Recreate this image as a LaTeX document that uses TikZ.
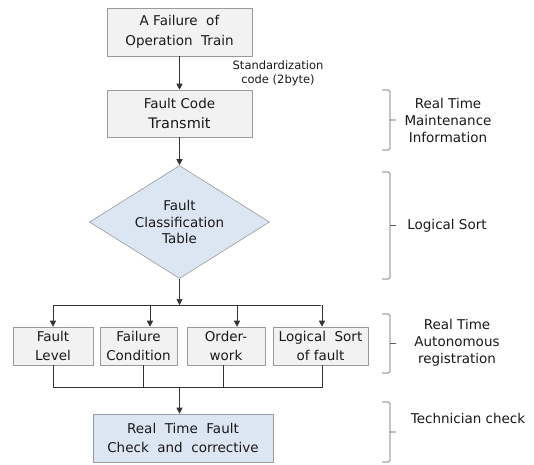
\documentclass[tikz,border=0pt]{standalone}
\usepackage{fontspec}
\setmainfont{DejaVu Sans}
\usetikzlibrary{positioning,arrows.meta,shapes.geometric}
\definecolor{boxgray}{HTML}{F2F2F2}
\definecolor{boxblue}{HTML}{DCE6F2}
\definecolor{edgegray}{HTML}{9A9A9A}
\definecolor{linegray}{HTML}{333333}
\tikzset{
  flowarrow/.style={-{Triangle[length=6pt,width=6pt]}, semithick, linegray},
  busline/.style={semithick, linegray},
  braceline/.style={semithick, black!65, rounded corners=1.5pt},
  stepbox/.style={draw=edgegray, semithick, fill=boxgray, align=center, inner sep=1pt, font=\fontsize{13.5}{19.5}\selectfont},
  checkbox/.style={stepbox, fill=boxblue},
  tablenode/.style={diamond, aspect=1.6, draw=edgegray, semithick, fill=boxblue, align=center, inner sep=0pt, minimum width=180pt, minimum height=113pt, font=\fontsize{13.5}{16.5}\selectfont},
  sidelabel/.style={align=center, font=\fontsize{13.5}{17}\selectfont},
  smalllabel/.style={align=center, font=\fontsize{11.5}{14}\selectfont}
}

\begin{document}
\begin{tikzpicture}[x=1pt, y=-1pt, every node/.style={text=black!90}]
      \useasboundingbox (0,0) rectangle (534,464);
      % main flow
      \node[stepbox, minimum width=145pt, minimum height=48pt] (fail) at (179.5,32) {A Failure\ \ of\\Operation\ \ Train};
      \node[stepbox, minimum width=145pt, minimum height=47pt] (code) at (179.5,113.5) {Fault Code\\{\fontsize{14.5}{19.5}\selectfont Transmit}};
      \node[smalllabel] (std) at (278,73) {Standardization\\code (2byte)};
      \node[tablenode] (table) at (179.5,222) {Fault\\Classification\\Table};
      \draw[flowarrow] (fail) -- (code);
      \draw[flowarrow] (code) -- (table);
      % four sort boxes
      \node[stepbox, minimum width=80pt, minimum height=38pt] (lvl) at (53,346) {Fault\\Level};
      \node[stepbox, minimum width=77pt, minimum height=38pt] (cond) at (138.5,346) {Failure\\Condition};
      \node[stepbox, minimum width=78pt, minimum height=38pt] (order) at (226,346) {Order-\\work};
      \node[stepbox, minimum width=95pt, minimum height=38pt] (lsort) at (320.5,346) {Logical\ \ Sort\\of fault};
      \node[checkbox, minimum width=180pt, minimum height=48pt] (check) at (183,438) {Real\ \ Time\ \ Fault\\Check\ \ and\ \ corrective};
      \coordinate (split) at (179.5,305);
      \coordinate (merge) at (179.5,387);
      \draw[flowarrow] (table.south) -- (split);
      \draw[busline] (lvl.north |- split) -- (lsort.north |- split);
      \draw[flowarrow] (lvl.north |- split) -- (lvl.north);
      \draw[flowarrow] ([xshift=11.5pt]cond.north |- split) -- ([xshift=11.5pt]cond.north);
      \draw[flowarrow] ([xshift=11pt]order.north |- split) -- ([xshift=11pt]order.north);
      \draw[flowarrow] ([xshift=1.5pt]lsort.north |- split) -- ([xshift=1.5pt]lsort.north);
      \draw[busline] (lvl.south) -- (lvl.south |- merge) -- ([xshift=1.5pt]lsort.south |- merge) -- ([xshift=1.5pt]lsort.south);
      \draw[busline] ([xshift=4.5pt]cond.south) -- ([xshift=4.5pt]cond.south |- merge);
      \draw[busline] ([xshift=-3pt]order.south) -- ([xshift=-3pt]order.south |- merge);
      \draw[flowarrow] (merge) -- (merge |- check.north);
      % side braces
      \foreach \ya/\yb in {90/150, 172/279, 314/373, 402/462}
        \draw[braceline] (382,\ya) -- (390,\ya) -- (390,\yb) -- (382,\yb)
          (390,{(\ya+\yb)/2}) -- (396,{(\ya+\yb)/2});
      \node[sidelabel] (rtm) at (448,120) {Real Time\\Maintenance\\Information};
      \node[sidelabel] (logic) at (447,226) {Logical Sort};
      \node[sidelabel] (rta) at (457,343) {Real Time\\Autonomous\\registration};
      \node[sidelabel] (tech) at (468,418) {Technician check};
    \end{tikzpicture}
\end{document}
